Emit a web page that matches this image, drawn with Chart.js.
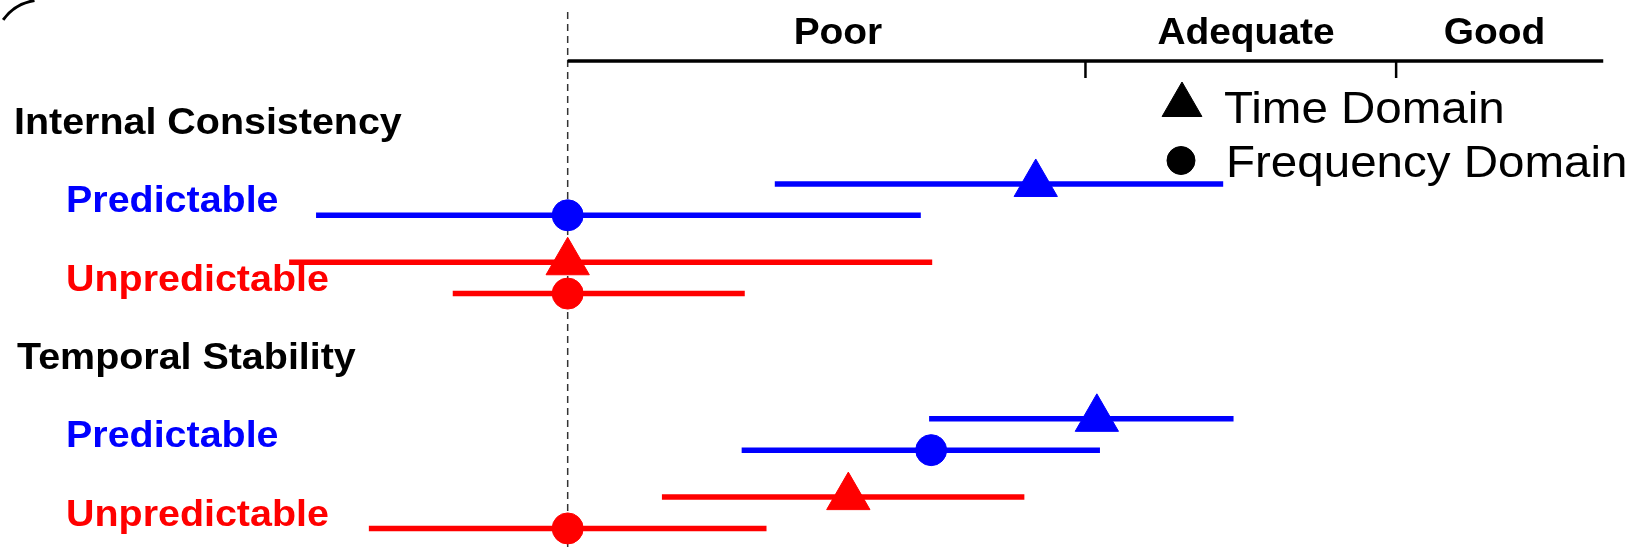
<!DOCTYPE html>
<html>
<head>
<meta charset="utf-8">
<script src="https://cdn.jsdelivr.net/npm/chart.js@4/dist/chart.umd.min.js"></script>
<style>
  html, body { margin: 0; padding: 0; background: #fff; }
  #wrap { width: 1643px; height: 548px; position: relative; }
</style>
</head>
<body>
<div id="wrap"><canvas id="myChart"></canvas></div>
<script>
// rows of the figure, top to bottom (slot = position on the y scale)
const rowLabels = ['Internal Consistency', 'Predictable', 'Unpredictable', 'Temporal Stability', 'Predictable', 'Unpredictable'];
const rowSlots = [0, 1, 2, 3, 4, 5];
const rowKinds = ['header', 'pred', 'unpred', 'header', 'pred', 'unpred'];

// data rows (slots 1, 2, 4, 5)
const dataSlots = [1, 2, 4, 5];
const timeEst  = [0.452, 0.000, 0.511, 0.271];
const timeLow  = [0.200, -0.269, 0.349, 0.091];
const timeHigh = [0.633, 0.352, 0.643, 0.441];
const freqEst  = [0.000, 0.000, 0.351, 0.000];
const freqLow  = [-0.243, -0.111, 0.168, -0.192];
const freqHigh = [0.341, 0.171, 0.514, 0.192];

// rating bands on the top axis
const bandLabels = ['Poor', 'Adequate', 'Good'];
const bandTicks = [0.5, 0.8];
const bandLabelAt = [0.261, 0.655, 0.895];
const axisEnd = 1.0;

const legendLabels = ['Time Domain', 'Frequency Domain'];

const kindColor = { header: '#000000', pred: '#0000FF', unpred: '#FF0000' };
const rowColor = dataSlots.map(s => kindColor[rowKinds[rowSlots.indexOf(s)]]);
const TD_OFF = -0.2, FD_OFF = 0.2;
const FONT = '"Liberation Sans", Arial, sans-serif';
const STRETCH = 1.08;

function wideText(ctx, text, x, y, align) {
    ctx.save();
    ctx.translate(x, y);
    ctx.scale(STRETCH, 1);
    ctx.textAlign = align;
    ctx.textBaseline = 'alphabetic';
    ctx.fillText(text, 0, 0);
    ctx.restore();
}

// error bar lines
const barSets = [];
dataSlots.forEach((s, i) => {
    barSets.push({
        data: [{ x: timeLow[i], y: s + TD_OFF }, { x: timeHigh[i], y: s + TD_OFF }],
        showLine: true, borderColor: rowColor[i], borderWidth: 5.5, pointRadius: 0, order: 2
    });
    barSets.push({
        data: [{ x: freqLow[i], y: s + FD_OFF }, { x: freqHigh[i], y: s + FD_OFF }],
        showLine: true, borderColor: rowColor[i], borderWidth: 5.5, pointRadius: 0, order: 2
    });
});

const decor = {
    id: 'decor',
    beforeDatasetsDraw(chart) {
        const ctx = chart.ctx;
        const x = chart.scales.x, y = chart.scales.y;
        ctx.save();
        // dashed zero line
        ctx.strokeStyle = '#333';
        ctx.lineWidth = 1.5;
        ctx.setLineDash([7, 5]);
        ctx.beginPath();
        ctx.moveTo(x.getPixelForValue(0), 12);
        ctx.lineTo(x.getPixelForValue(0), 548);
        ctx.stroke();
        ctx.setLineDash([]);

        // top rating axis
        ctx.strokeStyle = '#000';
        ctx.lineWidth = 3.5;
        ctx.beginPath();
        ctx.moveTo(x.getPixelForValue(0), 61);
        ctx.lineTo(x.getPixelForValue(axisEnd), 61);
        ctx.stroke();
        ctx.lineWidth = 2.5;
        bandTicks.forEach(t => {
            ctx.beginPath();
            ctx.moveTo(x.getPixelForValue(t), 61);
            ctx.lineTo(x.getPixelForValue(t), 78);
            ctx.stroke();
        });
        ctx.fillStyle = '#000';
        ctx.font = 'bold 36px ' + FONT;
        bandLabels.forEach((lab, i) => wideText(ctx, lab, x.getPixelForValue(bandLabelAt[i]), 44, 'center'));

        // row labels
        ctx.font = 'bold 36.5px ' + FONT;
        rowLabels.forEach((lab, i) => {
            const kind = rowKinds[i];
            ctx.fillStyle = kindColor[kind];
            const lx = kind === 'header' ? (i === 0 ? 14 : 17) : 66;
            wideText(ctx, lab, lx, y.getPixelForValue(rowSlots[i]) + 12.8, 'left');
        });

        // corner arc fragment
        ctx.strokeStyle = '#000';
        ctx.lineWidth = 3;
        ctx.beginPath();
        ctx.arc(42, 48, 48, Math.PI * 1.2, Math.PI * 1.45);
        ctx.stroke();
        ctx.restore();
    },
    afterDatasetsDraw(chart) {
        const ctx = chart.ctx;
        ctx.save();
        ctx.fillStyle = '#000';
        ctx.strokeStyle = '#000';
        Chart.helpers.drawPoint(ctx, { pointStyle: 'triangle', radius: 23, borderWidth: 1, rotation: 0 }, 1182, 105);
        Chart.helpers.drawPoint(ctx, { pointStyle: 'circle', radius: 14, borderWidth: 1, rotation: 0 }, 1181, 160.5);
        ctx.font = '44px ' + FONT;
        wideText(ctx, legendLabels[0], 1224, 122.7, 'left');
        wideText(ctx, legendLabels[1], 1226, 176.7, 'left');
        ctx.restore();
    }
};

const myChart = new Chart(document.getElementById('myChart'), {
    type: 'scatter',
    data: {
        datasets: [
            {
                label: legendLabels[0],
                data: dataSlots.map((s, i) => ({ x: timeEst[i], y: s + TD_OFF })),
                pointStyle: 'triangle',
                pointRadius: 25,
                pointBackgroundColor: rowColor,
                pointBorderColor: rowColor,
                pointBorderWidth: 1,
                order: 0
            },
            {
                label: legendLabels[1],
                data: dataSlots.map((s, i) => ({ x: freqEst[i], y: s + FD_OFF })),
                pointStyle: 'circle',
                pointRadius: 15.5,
                pointBackgroundColor: rowColor,
                pointBorderColor: rowColor,
                pointBorderWidth: 1,
                order: 1
            },
            ...barSets
        ]
    },
    options: {
        responsive: true,
        maintainAspectRatio: false,
        animation: false,
        layout: { padding: 0, autoPadding: false },
        scales: {
            x: { type: 'linear', display: false, min: -0.5482, max: 1.0384 },
            y: { type: 'linear', display: false, min: -1.55, max: 5.45, reverse: true }
        },
        plugins: {
            legend: { display: false },
            tooltip: { enabled: false }
        }
    },
    plugins: [decor]
});
</script>
</body>
</html>
